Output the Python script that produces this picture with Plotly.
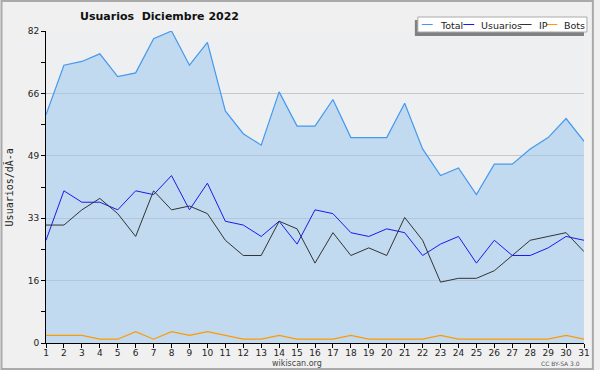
import plotly.graph_objects as go

days = list(range(1, 32))
total = [60, 73, 74, 76, 70, 71, 80, 82, 73, 79, 61, 55, 52, 66, 57, 57, 64, 54, 54, 54,
         63, 51, 44, 46, 39, 47, 47, 51, 54, 59, 53]
usuarios = [27, 40, 37, 37, 35, 40, 39, 44, 35, 42, 32, 31, 28, 32, 26, 35, 34, 29, 28, 30,
            29, 23, 26, 28, 21, 27, 23, 23, 25, 28, 27]
ip = [31, 31, 35, 38, 34, 28, 40, 35, 36, 34, 27, 23, 23, 32, 30, 21, 29, 23, 25, 23,
      33, 27, 16, 17, 17, 19, 23, 27, 28, 29, 24]
bots = [2, 2, 2, 1, 1, 3, 1, 3, 2, 3, 2, 1, 1, 2, 1, 1, 1, 2, 1, 1,
        1, 1, 2, 1, 1, 1, 1, 1, 1, 2, 1]

ytickvals = [0, 16.4, 32.8, 49.2, 65.6, 82]
yticktext = ["0", "16", "33", "49", "66", "82"]
yminor = [8.2, 24.6, 41.0, 57.4, 73.8]
legend_names = ["Total", "Usuarios", "IP", "Bots"]
colors = ["#4499ee", "#1a1aee", "#333333", "#ff9900"]

W, H = 600, 370
L, R, T, B = 46, 590, 31, 343


def px(x):
    return (x - L) / (R - L)


def py(y):
    return (B - y) / (B - T)


fig = go.Figure()
fig.add_trace(go.Scatter(x=days, y=total, name="Total", mode="lines",
                         line=dict(color=colors[0], width=1.2), fill="tozeroy",
                         fillcolor="rgba(156,200,238,0.55)"))
fig.add_trace(go.Scatter(x=days, y=usuarios, name="Usuarios", mode="lines",
                         line=dict(color=colors[1], width=1)))
fig.add_trace(go.Scatter(x=days, y=ip, name="IP", mode="lines",
                         line=dict(color=colors[2], width=1)))
fig.add_trace(go.Scatter(x=days, y=bots, name="Bots", mode="lines",
                         line=dict(color=colors[3], width=1.2)))

shapes = [
    dict(type="rect", xref="paper", yref="paper", x0=px(1), x1=px(599), y0=py(1), y1=py(369),
         line=dict(color="#aaaaaa", width=2), fillcolor="rgba(0,0,0,0)", layer="above"),
    # legend shadow and box
    dict(type="rect", xref="paper", yref="paper", x0=px(419), x1=px(590), y0=py(20), y1=py(36),
         line=dict(width=0), fillcolor="#808080", layer="above"),
    dict(type="rect", xref="paper", yref="paper", x0=px(422), x1=px(593), y0=py(17), y1=py(32),
         line=dict(color="#aaaaaa", width=1), fillcolor="#ffffff", layer="above"),
]
annotations = []
leg_line_x = [426, 468, 526, 552]
leg_text_x = [442, 484, 542, 568]
for name, c, lx, tx in zip(legend_names, colors, leg_line_x, leg_text_x):
    shapes.append(dict(type="line", xref="paper", yref="paper", x0=px(lx), x1=px(lx + 11),
                       y0=py(24.5), y1=py(24.5), line=dict(color=c, width=1), layer="above"))
    annotations.append(dict(text=name, xref="paper", yref="paper", x=px(tx), y=py(25),
                            xanchor="left", yanchor="middle", showarrow=False,
                            font=dict(family="DejaVu Sans", size=9.5, color="#222222")))

annotations += [
    dict(text="Usuarios\u00a0 Diciembre 2022", xref="paper", yref="paper", x=px(161), y=py(17),
         xanchor="center", yanchor="middle", showarrow=False,
         font=dict(family="DejaVu Sans", size=11, color="#111111", weight="bold")),
    dict(text="wikiscan.org", xref="paper", yref="paper", x=px(300), y=py(363),
         xanchor="center", yanchor="middle", showarrow=False,
         font=dict(family="DejaVu Sans", size=8, color="#444444")),
    dict(text="CC BY-SA 3.0", xref="paper", yref="paper", x=px(588), y=py(363),
         xanchor="right", yanchor="middle", showarrow=False,
         font=dict(family="DejaVu Sans", size=6, color="#555555")),
    dict(text="Usuarios/dÃ-a", xref="paper", yref="paper", x=px(9), y=py(187),
         xanchor="center", yanchor="middle", showarrow=False, textangle=-90,
         font=dict(family="DejaVu Sans Mono", size=10, color="#222222")),
]

fig.update_layout(
    width=W, height=H,
    margin=dict(l=L, r=W - R, t=T, b=H - B, pad=0),
    paper_bgcolor="#f0f0f0", plot_bgcolor="#eeeff1",
    showlegend=False,
    shapes=shapes, annotations=annotations,
    xaxis=dict(range=[1, 31], tickmode="array", tickvals=days, ticktext=[str(d) for d in days],
               ticks="outside", ticklen=4, tickcolor="#000000", showline=True,
               linecolor="#000000", linewidth=1, showgrid=False, zeroline=False,
               ticklabelstandoff=-3,
               tickfont=dict(family="DejaVu Sans", size=9, color="#222222")),
    yaxis=dict(range=[0, 82], tickmode="array", tickvals=ytickvals, ticktext=yticktext,
               ticks="outside", ticklen=4, tickcolor="#000000", showline=True,
               linecolor="#000000", linewidth=1, showgrid=True, gridcolor="#c8c8c8",
               gridwidth=1, zeroline=False,
               minor=dict(tickmode="array", tickvals=yminor, ticks="outside", ticklen=4,
                          tickcolor="#000000", showgrid=False),
               tickfont=dict(family="DejaVu Sans", size=9, color="#222222")),
)

fig.write_html("out.html", config={"displayModeBar": False},
               post_script="document.body.style.margin='0';")
